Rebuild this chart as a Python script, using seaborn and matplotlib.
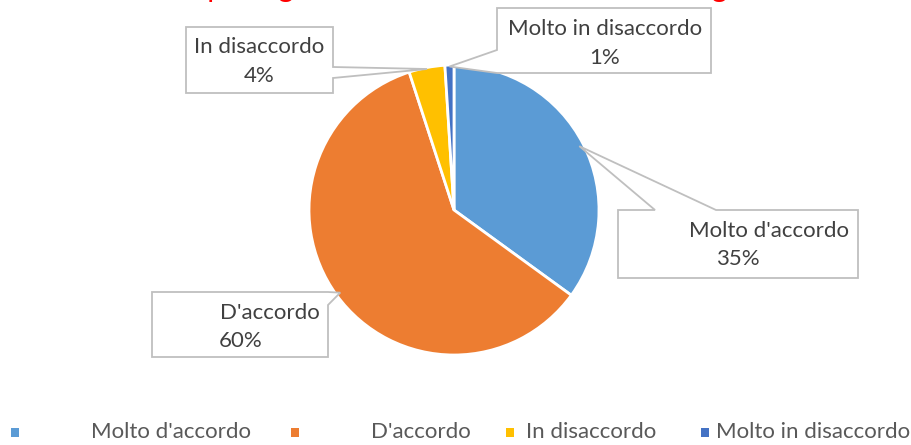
import numpy as np
import matplotlib
matplotlib.use("Agg")
import matplotlib.pyplot as plt
from matplotlib.patches import Polygon, Rectangle
import seaborn as sns

# data
categories = ["Molto d'accordo", "D'accordo", "In disaccordo", "Molto in disaccordo"]
shares = [35, 60, 4, 1]
colors = ["#5B9BD5", "#ED7D31", "#FFC000", "#4472C4"]
# the title is almost entirely cut off in the reference; only descenders show
title = "Il tempo di gioco è stato utile e ha aiutato i ragazzi a sentirsi meglio"

sns.set_theme(style="white")
plt.rcParams["font.family"] = ["Lato", "DejaVu Sans"]

W, H = 912, 445
fig = plt.figure(figsize=(W / 100, H / 100), dpi=100)
fig.patch.set_facecolor("white")

# pie centred at pixel (454, 210), radius 145 px
cx, cy, r = 454, 210, 145
ax = fig.add_axes([(cx - r) / W, (H - cy - r) / H, 2 * r / W, 2 * r / H])
wedges, _ = ax.pie(shares, colors=colors, startangle=90, counterclock=False,
                   radius=1, wedgeprops=dict(edgecolor="white", linewidth=2))
ax.set_xlim(-1, 1)
ax.set_ylim(-1, 1)
ax.set_aspect("auto")
ax.axis("off")


def pix(x, y):
    return (x / W, 1 - y / H)


def anchor(i, rad=0.97):
    w = wedges[i]
    ang = np.deg2rad((w.theta1 + w.theta2) / 2)
    p = ax.transData.transform((rad * np.cos(ang), rad * np.sin(ang)))
    return fig.transFigure.inverted().transform(p)


edge = "#BFBFBF"
txt = "#404040"
fs = 16

# callout outlines: box corners plus a notch to the wedge anchor (pixel coords)
callouts = [
    dict(i=0, box=(618, 210, 858, 278), side="top", base=(655, 716)),
    dict(i=1, box=(152, 292, 328, 357), side="right", base=(292, 305)),
    dict(i=2, box=(186, 27, 333, 93), side="right", base=(67, 78)),
    dict(i=3, box=(497, 8, 711, 73), side="left", base=(73, 50)),
]

for c in callouts:
    x0, y0, x1, y1 = c["box"]
    a = anchor(c["i"], 0.99 if c["i"] >= 2 else 0.97)
    b1, b2 = c["base"]
    if c["side"] == "top":
        pts = [pix(x0, y0), pix(b1, y0), a, pix(b2, y0), pix(x1, y0),
               pix(x1, y1), pix(x0, y1)]
    elif c["side"] == "right":
        pts = [pix(x0, y0), pix(x1, y0), pix(x1, b1), a, pix(x1, b2),
               pix(x1, y1), pix(x0, y1)]
    else:
        pts = [pix(x0, y0), pix(x1, y0), pix(x1, y1), pix(x0, y1),
               pix(x0, b1), a, pix(x0, b2)]
    fig.patches.append(Polygon(pts, closed=True, transform=fig.transFigure,
                               facecolor="white", edgecolor=edge, lw=1.3,
                               zorder=3))

# label texts inside callouts
labels = [
    (0, (769, 231), (738, 259)),
    (1, (270, 313), (241, 341)),
    (2, (259, 47), (259, 76)),
    (3, (605, 29), (605, 58)),
]
for i, (lx, ly), (px, py) in labels:
    fig.text(*pix(lx, ly), categories[i], ha="center", va="center",
             fontsize=fs, color=txt, zorder=5)
    fig.text(*pix(px, py), f"{shares[i]}%", ha="center", va="center",
             fontsize=fs, color=txt, zorder=5)

# title, clipped by the top of the image
fig.text(*pix(135, -3.5), title, ha="left", va="baseline", fontsize=21,
         color="#FF0000")

# legend along the bottom
legend_pos = [(15, 91), (295, 371), (510, 526), (705, 716)]
for (mx, tx), name, col in zip(legend_pos, categories, colors):
    fig.patches.append(Rectangle(pix(mx - 4, 437), 8 / W, 9 / H,
                                 transform=fig.transFigure, facecolor=col,
                                 edgecolor="none"))
    fig.text(*pix(tx, 432), name, ha="left", va="center", fontsize=fs,
             color="#595959")

fig.savefig("out.png", dpi=100, facecolor="white")
